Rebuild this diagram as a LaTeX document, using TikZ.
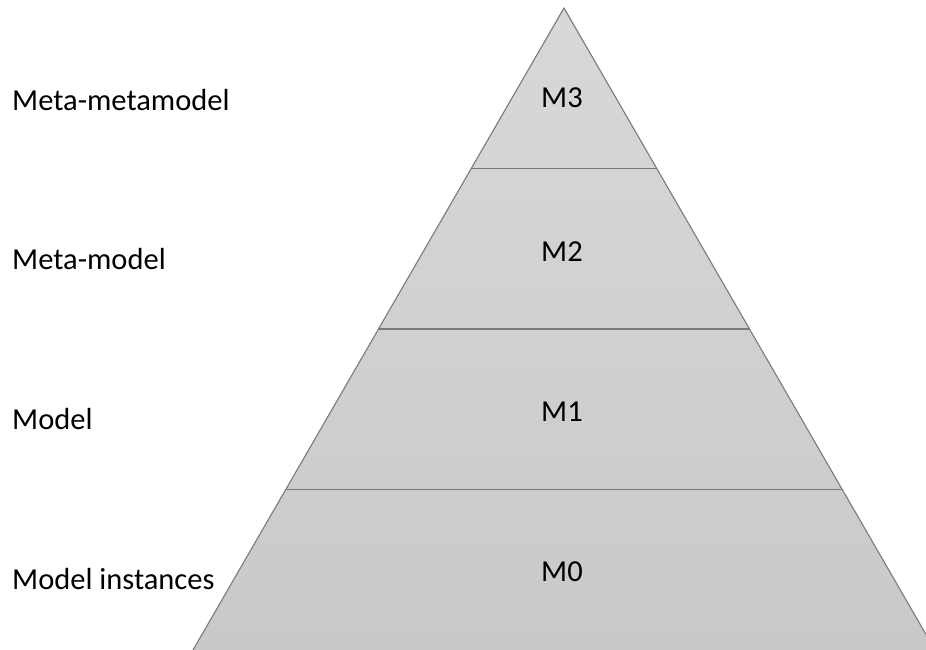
\documentclass[tikz,border=0pt]{standalone}
\usepackage{fontspec}
\setmainfont{Carlito}
\usepackage{xcolor}
\usepackage{tikz}
\usetikzlibrary{calc}
\definecolor{pyrtop}{HTML}{D8D8D8}
\definecolor{pyrbot}{HTML}{C9C9C9}
\definecolor{pyrline}{HTML}{7A7A7A}

\begin{document}
\begin{tikzpicture}[
    x=1bp, y=-1bp,
    every node/.style={inner sep=0pt, font=\fontsize{30.5bp}{36bp}\selectfont},
    levelname/.style={anchor=base west},
    levellabel/.style={anchor=base},
    edge/.style={draw=pyrline, line width=1.1bp},
    divider/.style={draw=pyrline, line width=1.3bp}
]
\useasboundingbox (0,0) rectangle (926,650);

% 金字塔
\coordinate (apex) at (564,8);
\coordinate (bl) at (193,650);
\coordinate (br) at (935,650);
\path[top color=pyrtop, bottom color=pyrbot] (apex) -- (bl) -- (br) -- cycle;
\draw[edge] (bl) -- (apex) -- (br);

% 分层线
\draw[divider] ($(apex)!0.25!(bl)$) -- ($(apex)!0.25!(br)$);
\draw[divider] ($(apex)!0.5!(bl)$) -- ($(apex)!0.5!(br)$);
\draw[divider] ($(apex)!0.75!(bl)$) -- ($(apex)!0.75!(br)$);

% 层标签
\node[levellabel] (m3) at (562,108) {M3};
\node[levellabel] (m2) at (562,261) {M2};
\node[levellabel] (m1) at (562,421) {M1};
\node[levellabel] (m0) at (562,581) {M0};

% 左侧说明
\node[levelname] (metameta) at (12,111) {Meta-metamodel};
\node[levelname] (meta) at (12,269) {Meta-model};
\node[levelname] (model) at (12,429) {Model};
\node[levelname] (inst) at (12,589) {Model instances};

\end{tikzpicture}
\end{document}
